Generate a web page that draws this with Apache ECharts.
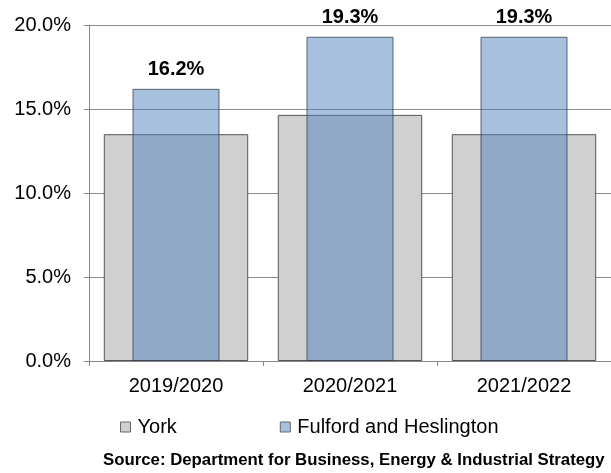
<!DOCTYPE html>
<html><head><meta charset="utf-8">
<script src="https://cdn.jsdelivr.net/npm/echarts@6/dist/echarts.min.js"></script>
<style>html,body{margin:0;padding:0;background:#fff}#c{width:611px;height:473px}</style>
</head><body><div id="c"></div>
<script>
const categories = ['2019/2020', '2020/2021', '2021/2022'];
const yorkValues = [13.5, 14.65, 13.5];
const fulfordValues = [16.2, 19.3, 19.3];
const yTicks = [0, 5, 10, 15, 20];
const sourceText = 'Source: Department for Business, Energy & Industrial Strategy';

const chart = echarts.init(document.getElementById('c'), null, {renderer: 'canvas'});
const font = '"Liberation Sans", Arial, sans-serif';
chart.setOption({
  animation: false,
  backgroundColor: '#fff',
  graphic: [{
    type: 'text', left: 103, top: 452,
    style: {text: sourceText, fontFamily: font, fontSize: 16.8, fontWeight: 'bold', fill: '#000'}
  }],
  legend: {
    left: 115, top: 412,
    itemWidth: 10, itemHeight: 10, itemGap: 103,
    icon: 'rect',
    textStyle: {fontFamily: font, fontSize: 20, color: '#000', padding: [0, 0, 0, 2]},
    data: [
      {name: 'York', itemStyle: {color: '#d0d0d0', borderColor: '#666', borderWidth: 1}},
      {name: 'Fulford and Heslington', itemStyle: {color: '#a7c0de', borderColor: '#666', borderWidth: 1}}
    ]
  },
  grid: {left: 89, right: 0, top: 25, bottom: 112, show: false},
  xAxis: [
    {type: 'category', data: categories,
     axisLine: {lineStyle: {color: '#888', width: 1}},
     axisTick: {show: true, length: 5, lineStyle: {color: '#888'}},
     axisLabel: {fontFamily: font, fontSize: 20, color: '#000', margin: 15}},
    {type: 'category', data: categories, show: false, position: 'bottom'}
  ],
  yAxis: {
    type: 'value', min: 0, max: 20, interval: 5,
    axisLine: {show: true, lineStyle: {color: '#888'}},
    axisTick: {show: true, length: 5, lineStyle: {color: '#888'}},
    splitLine: {show: true, lineStyle: {color: '#8c8c8c', width: 1}},
    axisLabel: {fontFamily: font, fontSize: 20, color: '#000', margin: 18,
      formatter: v => yTicks.includes(v) ? v.toFixed(1) + '%' : ''}
  },
  series: [
    {name: 'York', type: 'bar', xAxisIndex: 0, data: yorkValues, barWidth: '83%',
     itemStyle: {color: '#d0d0d0', borderColor: '#555', borderWidth: 1}},
    {name: 'Fulford and Heslington', type: 'bar', xAxisIndex: 1, data: fulfordValues, barWidth: '50%',
     itemStyle: {color: 'rgba(79,129,189,0.5)', borderColor: 'rgba(50,60,75,0.75)', borderWidth: 1},
     label: {show: true, position: 'top', distance: 9, fontFamily: font, fontSize: 20, fontWeight: 'bold', color: '#000',
       formatter: p => p.value.toFixed(1) + '%'}}
  ]
});
</script></body></html>
